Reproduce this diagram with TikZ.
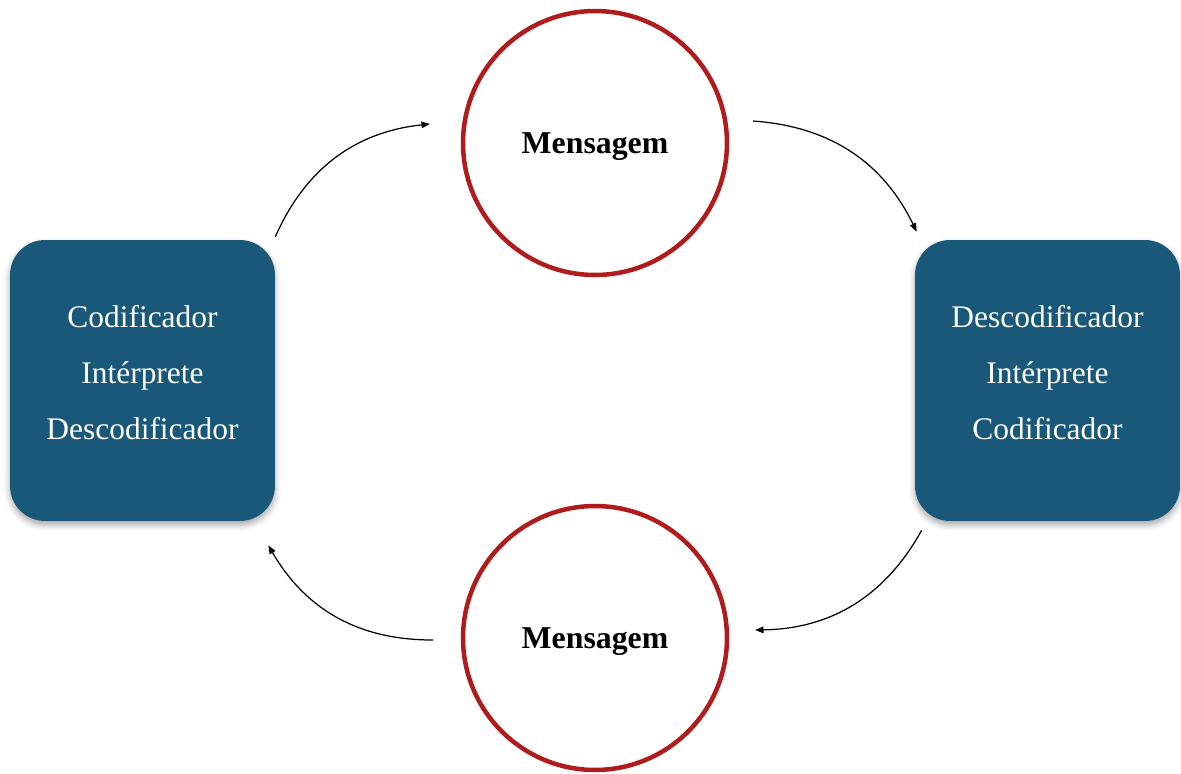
\documentclass[tikz,border=0pt]{standalone}
\usepackage{fontspec}
\setmainfont{Liberation Serif}
\usetikzlibrary{arrows.meta,shadows.blur}
\definecolor{boxblue}{RGB}{25,88,120}
\definecolor{ringred}{RGB}{176,28,28}
\begin{document}
\begin{tikzpicture}[x=0.02cm,y=0.02cm,
  agent/.style={fill=boxblue, rounded corners=0.7cm, minimum width=5.3cm, minimum height=5.62cm, inner sep=0pt,
    blur shadow={shadow xshift=0pt, shadow yshift=-0.08cm, shadow blur radius=0.12cm, shadow opacity=35}},
  agenttext/.style={text=white, align=center, font=\fontsize{17.9}{31.9}\selectfont},
  message/.style={circle, draw=ringred, line width=0.09cm, minimum size=5.28cm, inner sep=0pt, text depth=0pt,
    font=\fontsize{18.1}{20}\selectfont\bfseries},
  flow/.style={-{Triangle[length=1.7mm,width=1.3mm]}, line width=0.7pt}]
\useasboundingbox (0,0) rectangle (1181,-774);

% The two agents
\node[agent] (lbox) at (142.5,-380.5) {};
\node[agenttext] (ltext) at (142.5,-373) {Codificador\\Intérprete\\Descodificador};
\node[agent] (rbox) at (1047.5,-380.5) {};
\node[agenttext] (rtext) at (1047.5,-373) {Descodificador\\Intérprete\\Codificador};

% The two messages
\node[message] (msgtop) at (595,-143) {Mensagem};
\node[message] (msgbot) at (595,-638) {Mensagem};

% The cycle
\draw[flow] ([shift={(0,3)}]lbox.north east) to[bend left=30] ([shift={(-165,19)}]msgtop.center);
\draw[flow] ([shift={(158,22)}]msgtop.center) to[bend left=30] ([shift={(2,8)}]rbox.north west);
\draw[flow] ([shift={(7,-9)}]rbox.south west) to[bend left=30] ([shift={(160,8)}]msgbot.center);
\draw[flow] ([shift={(-162,-2)}]msgbot.center) to[bend left=30] ([shift={(-7,-24)}]lbox.south east);
\end{tikzpicture}
\end{document}
